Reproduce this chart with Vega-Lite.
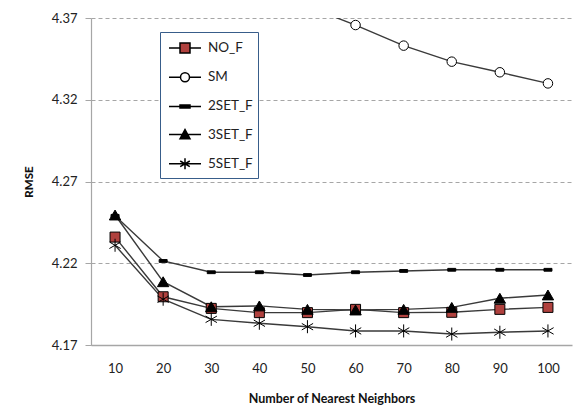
{
  "$schema": "https://vega.github.io/schema/vega-lite/v6.json",
  "autosize": "none",
  "width": 481,
  "height": 327,
  "padding": {"left": 91, "top": 18, "right": 10, "bottom": 67},
  "background": "white",
  "config": {
    "font": "Lato",
    "view": {"stroke": null},
    "axis": {"labelFont": "Lato", "titleFont": "Lato", "labelColor": "#222", "titleColor": "#111"}
  },
  "data": {
    "values": [
      {"k": 10, "series": "NO_F", "rmse": 4.236},
      {"k": 20, "series": "NO_F", "rmse": 4.1995},
      {"k": 30, "series": "NO_F", "rmse": 4.1924},
      {"k": 40, "series": "NO_F", "rmse": 4.1898},
      {"k": 50, "series": "NO_F", "rmse": 4.1898},
      {"k": 60, "series": "NO_F", "rmse": 4.1918},
      {"k": 70, "series": "NO_F", "rmse": 4.1898},
      {"k": 80, "series": "NO_F", "rmse": 4.190},
      {"k": 90, "series": "NO_F", "rmse": 4.1918},
      {"k": 100, "series": "NO_F", "rmse": 4.193},
      {"k": 10, "series": "SM", "rmse": 4.48},
      {"k": 20, "series": "SM", "rmse": 4.43},
      {"k": 30, "series": "SM", "rmse": 4.405},
      {"k": 40, "series": "SM", "rmse": 4.39},
      {"k": 50, "series": "SM", "rmse": 4.377},
      {"k": 60, "series": "SM", "rmse": 4.3657},
      {"k": 70, "series": "SM", "rmse": 4.3531},
      {"k": 80, "series": "SM", "rmse": 4.3433},
      {"k": 90, "series": "SM", "rmse": 4.3368},
      {"k": 100, "series": "SM", "rmse": 4.330},
      {"k": 10, "series": "2SET_F", "rmse": 4.249},
      {"k": 20, "series": "2SET_F", "rmse": 4.2214},
      {"k": 30, "series": "2SET_F", "rmse": 4.2145},
      {"k": 40, "series": "2SET_F", "rmse": 4.2145},
      {"k": 50, "series": "2SET_F", "rmse": 4.2128},
      {"k": 60, "series": "2SET_F", "rmse": 4.2145},
      {"k": 70, "series": "2SET_F", "rmse": 4.2153},
      {"k": 80, "series": "2SET_F", "rmse": 4.216},
      {"k": 90, "series": "2SET_F", "rmse": 4.216},
      {"k": 100, "series": "2SET_F", "rmse": 4.216},
      {"k": 10, "series": "3SET_F", "rmse": 4.2495},
      {"k": 20, "series": "3SET_F", "rmse": 4.2087},
      {"k": 30, "series": "3SET_F", "rmse": 4.1934},
      {"k": 40, "series": "3SET_F", "rmse": 4.1939},
      {"k": 50, "series": "3SET_F", "rmse": 4.1918},
      {"k": 60, "series": "3SET_F", "rmse": 4.1914},
      {"k": 70, "series": "3SET_F", "rmse": 4.1918},
      {"k": 80, "series": "3SET_F", "rmse": 4.193},
      {"k": 90, "series": "3SET_F", "rmse": 4.1986},
      {"k": 100, "series": "3SET_F", "rmse": 4.2006},
      {"k": 10, "series": "5SET_F", "rmse": 4.231},
      {"k": 20, "series": "5SET_F", "rmse": 4.198},
      {"k": 30, "series": "5SET_F", "rmse": 4.1857},
      {"k": 40, "series": "5SET_F", "rmse": 4.1833},
      {"k": 50, "series": "5SET_F", "rmse": 4.1812},
      {"k": 60, "series": "5SET_F", "rmse": 4.1786},
      {"k": 70, "series": "5SET_F", "rmse": 4.1786},
      {"k": 80, "series": "5SET_F", "rmse": 4.1767},
      {"k": 90, "series": "5SET_F", "rmse": 4.1778},
      {"k": 100, "series": "5SET_F", "rmse": 4.1786}
    ]
  },
  "encoding": {
    "x": {
      "field": "k", "type": "ordinal",
      "scale": {"type": "point", "padding": 0.5},
      "axis": {
        "title": "Number of Nearest Neighbors", "labelAngle": 0,
        "ticks": false, "labelPadding": 17, "labelFontSize": 13,
        "titleFontSize": 12.5, "titleFontWeight": "bold", "titlePadding": 17,
        "domainColor": "#a6a6a6", "domainWidth": 1.5, "grid": false
      }
    },
    "y": {
      "field": "rmse", "type": "quantitative",
      "scale": {"domain": [4.17, 4.37], "nice": false, "zero": false},
      "axis": {
        "title": "RMSE", "values": [4.17, 4.22, 4.27, 4.32, 4.37], "format": ".2f",
        "labelFontSize": 13, "labelPadding": 8, "tickSize": 6, "tickColor": "#a6a6a6",
        "domainColor": "#a6a6a6", "domainWidth": 1.2,
        "grid": true, "gridColor": "#a6a6a6", "gridDash": [4, 3], "gridWidth": 1,
        "titleFontSize": 11.5, "titleFontWeight": 900, "titlePadding": 17
      }
    }
  },
  "layer": [
    {
      "mark": {"type": "line", "clip": true, "color": "#3a3a3a", "strokeWidth": 1.4},
      "encoding": {"detail": {"field": "series"}}
    },
    {
      "transform": [{"filter": "datum.series == 'NO_F'"}],
      "mark": {"type": "point", "clip": true, "shape": "square", "size": 100, "filled": true, "fill": "#b0413e", "stroke": "black", "strokeWidth": 1, "opacity": 1}
    },
    {
      "transform": [{"filter": "datum.series == 'SM'"}],
      "mark": {"type": "point", "clip": true, "shape": "circle", "size": 90, "filled": true, "fill": "white", "stroke": "black", "strokeWidth": 1, "opacity": 1}
    },
    {
      "transform": [{"filter": "datum.series == '2SET_F'"}],
      "mark": {"type": "point", "clip": true, "shape": "M-1,-0.35H1V0.35H-1Z", "size": 64, "filled": true, "fill": "black", "stroke": "black", "strokeWidth": 1, "opacity": 1}
    },
    {
      "transform": [{"filter": "datum.series == '3SET_F'"}],
      "mark": {"type": "point", "clip": true, "shape": "triangle-up", "size": 130, "filled": true, "fill": "black", "stroke": "black", "strokeWidth": 1, "opacity": 1}
    },
    {
      "transform": [{"filter": "datum.series == '5SET_F'"}],
      "mark": {"type": "point", "clip": true, "shape": "M0,-1V1M-0.87,-0.5L0.87,0.5M-0.87,0.5L0.87,-0.5", "size": 170, "filled": false, "stroke": "black", "strokeWidth": 1, "opacity": 1}
    },
    {
      "transform": [{"filter": "datum.k > 1000"}],
      "mark": {"type": "point", "filled": true, "stroke": "black", "strokeWidth": 1, "opacity": 1},
      "encoding": {
        "shape": {
          "field": "series",
          "scale": {
            "domain": ["NO_F", "SM", "2SET_F", "3SET_F", "5SET_F"],
            "range": [
              "M-1.6,0H-0.5M0.5,0H1.6M-0.5,-0.5H0.5V0.5H-0.5Z",
              "M-1.6,0H-0.45M0.45,0H1.6M-0.45,0A0.45,0.45 0 1,0 0.45,0A0.45,0.45 0 1,0 -0.45,0Z",
              "M-1.6,0H1.6M-0.5,-0.15H0.5V0.15H-0.5Z",
              "M-1.6,0H1.6M-0.5,0.42L0,-0.5L0.5,0.42Z",
              "M-1.6,0H1.6M0,-0.55V0.55M-0.48,-0.28L0.48,0.28M-0.48,0.28L0.48,-0.28"
            ]
          },
          "legend": {
            "orient": "none", "legendX": 69, "legendY": 14, "title": null,
            "strokeColor": "#385d8a", "fillColor": "white", "padding": 5,
            "symbolSize": 400, "symbolOffset": 9, "rowPadding": 10.2, "labelOffset": 12,
            "labelFont": "Lato", "labelFontSize": 13.5, "labelColor": "#222",
            "encode": {"symbols": {"update": {"stroke": {"value": "black"}, "strokeWidth": {"value": 1}, "opacity": {"value": 1}}}}
          }
        },
        "fill": {
          "field": "series",
          "scale": {
            "domain": ["NO_F", "SM", "2SET_F", "3SET_F", "5SET_F"],
            "range": ["#b0413e", "white", "black", "black", "black"]
          }
        }
      }
    }
  ]
}
